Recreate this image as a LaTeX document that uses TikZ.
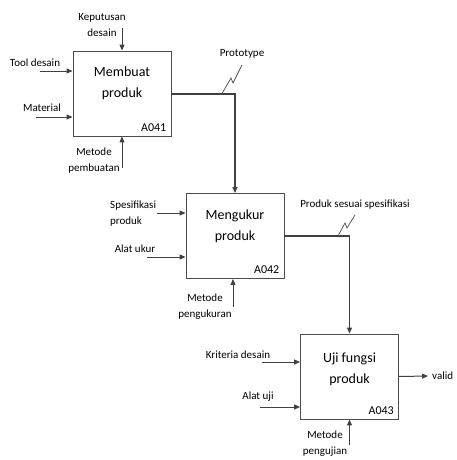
\documentclass[tikz,border=0pt]{standalone}
\usepackage{fontspec}
\setmainfont{Carlito}
\usetikzlibrary{arrows.meta}

\begin{document}
\begin{tikzpicture}[x = 1pt, y = -1pt,
  box/.style = {draw = black!70, line width = 0.9pt, minimum width = 98pt, minimum height = 85pt, inner sep = 0pt},
  title/.style = {font = \fontsize{14}{21}\selectfont, align = center, inner sep = 0pt},
  code/.style = {font = \fontsize{12}{14}\selectfont, inner sep = 0pt, anchor = south east},
  lbl/.style = {font = \fontsize{11}{16}\selectfont, align = center, inner sep = 0pt, text = black},
  arr/.style = {draw = black!75, line width = 1pt, -{Triangle[length = 6pt, width = 5pt]}},
  squig/.style = {draw = black!70, line width = 0.7pt}]
\useasboundingbox (0, 0) rectangle (456, 460);
\node[box] (b1) at (122, 93.5){};
\node[box] (b2) at (235, 236){};
\node[box] (b3) at (349.5, 376.5){};
\node[title] (t1) at (122, 83){Membuat\\produk};
\node[title] (t2) at (235, 226){Mengukur\\produk};
\node[title] (t3) at (349.5, 369){Uji fungsi\\produk};
\node[code] (c1) at ([xshift = -5pt, yshift = 5pt]b1.south east){A041};
\node[code] (c2) at ([xshift = -5pt, yshift = 5pt]b2.south east){A042};
\node[code] (c3) at ([xshift = -5pt, yshift = 5pt]b3.south east){A043};
\node[lbl] (kep) at (102, 25){Keputusan\\desain};
\node[lbl] (tool) at (35, 63){Tool desain};
\node[lbl] (mat) at (42, 108){Material};
\node[lbl] (mbuat) at (94, 161){Metode\\pembuatan};
\node[lbl] (proto) at (242, 54){Prototype};
\node[lbl, anchor = west, align = left] (spek) at (110, 214){Spesifikasi\\produk};
\node[lbl] (aukur) at (135, 249){Alat ukur};
\node[lbl] (mukur) at (205, 307){Metode\\pengukuran};
\node[lbl] (psesuai) at (355, 205){Produk sesuai spesifikasi};
\node[lbl] (krit) at (238, 355){Kriteria desain};
\node[lbl] (auji) at (258, 397){Alat uji};
\node[lbl] (muji) at (325, 444){Metode\\pengujian};
\node[lbl, anchor = west] (valid) at (432, 376){valid};
\coordinate (kep0) at (122, 28);
\coordinate (tool0) at (40, 71);
\coordinate (mat0) at (36, 117);
\coordinate (mbuat0) at (122, 168);
\coordinate (spek0) at (157, 213);
\coordinate (aukur0) at (147, 257);
\coordinate (mukur0) at (233, 307);
\coordinate (krit0) at (262, 362);
\coordinate (auji0) at (260, 407);
\coordinate (muji0) at (349.5, 445);
\coordinate (valid0) at (428, 376);
\draw[arr] (kep0) -- (b1.north);
\draw[arr] (tool0) -- (tool0 -| b1.west);
\draw[arr] (mat0) -- (mat0 -| b1.west);
\draw[arr] (mbuat0) -- (b1.south);
\draw[arr, line width = 2pt] (b1.east) -| (b2.north);
\draw[arr] (spek0) -- (spek0 -| b2.west);
\draw[arr] (aukur0) -- (aukur0 -| b2.west);
\draw[arr] (mukur0) -- (mukur0 |- b2.south);
\draw[arr, line width = 1.2pt] (b2.east) -| (b3.north);
\draw[arr] (krit0) -- (krit0 -| b3.west);
\draw[arr] (auji0) -- (auji0 -| b3.west);
\draw[arr] (muji0) -- (b3.south);
\draw[arr] (b3.east) -- (valid0);
\draw[squig] (222, 93.5) -- (231, 78) -- (233, 83) -- (242, 65);
\draw[squig] (338, 236) -- (345, 223) -- (347, 228) -- (355, 215);
\end{tikzpicture}
\end{document}
